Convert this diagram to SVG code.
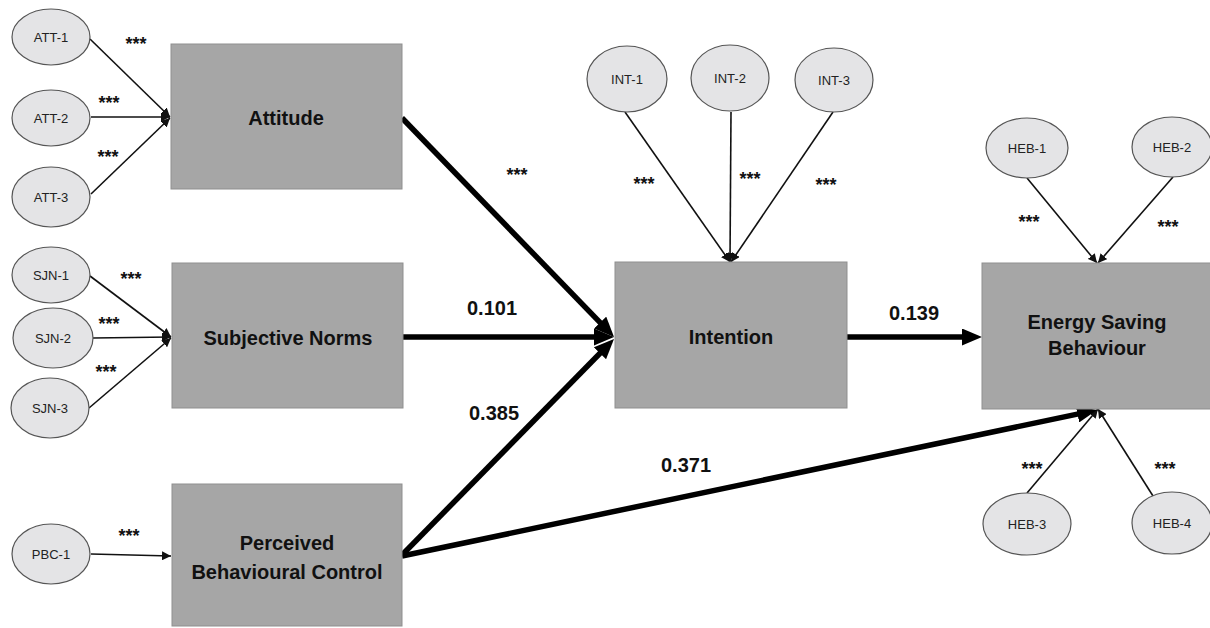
<svg xmlns="http://www.w3.org/2000/svg" width="1210" height="628" viewBox="0 0 1210 628">
  <style>
    .box { fill: #a6a6a6; stroke: #8f8f8f; stroke-width: 1; }
    .ind { fill: #e4e4e6; stroke: #555; stroke-width: 1.2; }
    .lbl { font-family: "Liberation Sans", Arial, sans-serif; font-weight: bold; font-size: 20px; fill: #111; text-anchor: middle; }
    .ilbl { font-family: "Liberation Sans", Arial, sans-serif; font-size: 13px; fill: #222; text-anchor: middle; }
    .sig { font-family: "Liberation Sans", Arial, sans-serif; font-weight: bold; font-size: 18px; fill: #111; text-anchor: middle; }
    .coef { font-family: "Liberation Sans", Arial, sans-serif; font-weight: bold; font-size: 20px; fill: #111; text-anchor: middle; }
    .thin { stroke: #111; stroke-width: 1.6; fill: none; marker-end: url(#headThin); }
    .thick { stroke: #000; stroke-width: 5.5; fill: none; marker-end: url(#headThick); }
  </style>
  <defs>
    <marker id="headThin" markerUnits="userSpaceOnUse" markerWidth="10" markerHeight="9" refX="9" refY="4.5" orient="auto">
      <path d="M0,0 L9,4.5 L0,9 z" fill="#111"/>
    </marker>
    <marker id="headThick" markerUnits="userSpaceOnUse" markerWidth="21" markerHeight="17" refX="6" refY="8.5" orient="auto">
      <path d="M0,0 L20,8.5 L0,17 z" fill="#000"/>
    </marker>
  </defs>

  <rect width="1210" height="628" fill="#fff"/>

  <!-- connectors -->
  <g id="connectors">
    <line class="thin" x1="90" y1="39" x2="170" y2="117"/>
    <line class="thin" x1="91" y1="117" x2="170" y2="117"/>
    <line class="thin" x1="91" y1="194" x2="170" y2="118"/>
    <line class="thin" x1="90" y1="276" x2="171" y2="337"/>
    <line class="thin" x1="93" y1="338" x2="171" y2="337"/>
    <line class="thin" x1="89" y1="408" x2="171" y2="338"/>
    <line class="thin" x1="91" y1="554" x2="171" y2="556"/>
    <line class="thin" x1="625" y1="112" x2="730" y2="262"/>
    <line class="thin" x1="731" y1="112" x2="730" y2="262"/>
    <line class="thin" x1="833" y1="112" x2="731" y2="262"/>
    <line class="thin" x1="1027" y1="178" x2="1097" y2="263"/>
    <line class="thin" x1="1173" y1="177" x2="1098" y2="263"/>
    <line class="thin" x1="1027" y1="493" x2="1098" y2="409"/>
    <line class="thin" x1="1153" y1="496" x2="1098" y2="409"/>

    <line class="thick" x1="402" y1="118" x2="604.3" y2="326.9"/>
    <line class="thick" x1="403" y1="337" x2="600" y2="337"/>
    <line class="thick" x1="402" y1="555" x2="604.2" y2="349"/>
    <line class="thick" x1="402" y1="556" x2="1083.3" y2="412.9"/>
    <line class="thick" x1="847" y1="337" x2="968" y2="337"/>
  </g>

  <!-- path labels -->
  <g id="labels">
    <text class="sig" x="136" y="50">***</text>
    <text class="sig" x="109" y="109">***</text>
    <text class="sig" x="108" y="163">***</text>
    <text class="sig" x="131" y="285">***</text>
    <text class="sig" x="109" y="330">***</text>
    <text class="sig" x="106" y="378">***</text>
    <text class="sig" x="129" y="542">***</text>
    <text class="sig" x="517" y="181">***</text>
    <text class="sig" x="644" y="190">***</text>
    <text class="sig" x="750" y="185">***</text>
    <text class="sig" x="826" y="191">***</text>
    <text class="sig" x="1029" y="228">***</text>
    <text class="sig" x="1168" y="233">***</text>
    <text class="sig" x="1032" y="475">***</text>
    <text class="sig" x="1165" y="475">***</text>

    <text class="coef" x="492" y="315">0.101</text>
    <text class="coef" x="494" y="420">0.385</text>
    <text class="coef" x="686" y="472">0.371</text>
    <text class="coef" x="914" y="320">0.139</text>
  </g>

  <!-- constructs -->
  <g id="attitude">
    <rect class="box" x="171" y="44" width="231" height="145"/>
    <text class="lbl" x="286" y="125">Attitude</text>
  </g>
  <g id="subjective-norms">
    <rect class="box" x="172" y="263" width="231" height="145"/>
    <text class="lbl" x="288" y="345">Subjective Norms</text>
  </g>
  <g id="pbc">
    <rect class="box" x="172" y="484" width="230" height="142"/>
    <text class="lbl" x="287" y="550">Perceived</text>
    <text class="lbl" x="287" y="579">Behavioural Control</text>
  </g>
  <g id="intention">
    <rect class="box" x="615" y="262" width="232" height="146"/>
    <text class="lbl" x="731" y="344">Intention</text>
  </g>
  <g id="energy-saving-behaviour">
    <rect class="box" x="982" y="263" width="231" height="146"/>
    <text class="lbl" x="1097" y="329">Energy Saving</text>
    <text class="lbl" x="1097" y="355">Behaviour</text>
  </g>

  <!-- indicators -->
  <g id="att-1"><ellipse class="ind" cx="51" cy="37" rx="39" ry="28"/><text class="ilbl" x="51" y="42">ATT-1</text></g>
  <g id="att-2"><ellipse class="ind" cx="51" cy="118" rx="39" ry="28"/><text class="ilbl" x="51" y="123">ATT-2</text></g>
  <g id="att-3"><ellipse class="ind" cx="51" cy="197" rx="39" ry="30"/><text class="ilbl" x="51" y="202">ATT-3</text></g>
  <g id="sjn-1"><ellipse class="ind" cx="51" cy="275" rx="39" ry="28"/><text class="ilbl" x="51" y="280">SJN-1</text></g>
  <g id="sjn-2"><ellipse class="ind" cx="53" cy="338" rx="40" ry="30"/><text class="ilbl" x="53" y="343">SJN-2</text></g>
  <g id="sjn-3"><ellipse class="ind" cx="50" cy="408" rx="39" ry="30"/><text class="ilbl" x="50" y="413">SJN-3</text></g>
  <g id="pbc-1"><ellipse class="ind" cx="51" cy="554" rx="39" ry="30"/><text class="ilbl" x="51" y="559">PBC-1</text></g>
  <g id="int-1"><ellipse class="ind" cx="627" cy="79" rx="40" ry="33"/><text class="ilbl" x="627" y="84">INT-1</text></g>
  <g id="int-2"><ellipse class="ind" cx="730" cy="78" rx="39" ry="33"/><text class="ilbl" x="730" y="83">INT-2</text></g>
  <g id="int-3"><ellipse class="ind" cx="834" cy="80" rx="39" ry="32"/><text class="ilbl" x="834" y="85">INT-3</text></g>
  <g id="heb-1"><ellipse class="ind" cx="1027" cy="148" rx="41" ry="30"/><text class="ilbl" x="1027" y="153">HEB-1</text></g>
  <g id="heb-2"><ellipse class="ind" cx="1172" cy="147" rx="40" ry="30"/><text class="ilbl" x="1172" y="152">HEB-2</text></g>
  <g id="heb-3"><ellipse class="ind" cx="1027" cy="524" rx="44" ry="31"/><text class="ilbl" x="1027" y="529">HEB-3</text></g>
  <g id="heb-4"><ellipse class="ind" cx="1172" cy="523" rx="40" ry="31"/><text class="ilbl" x="1172" y="528">HEB-4</text></g>
</svg>
